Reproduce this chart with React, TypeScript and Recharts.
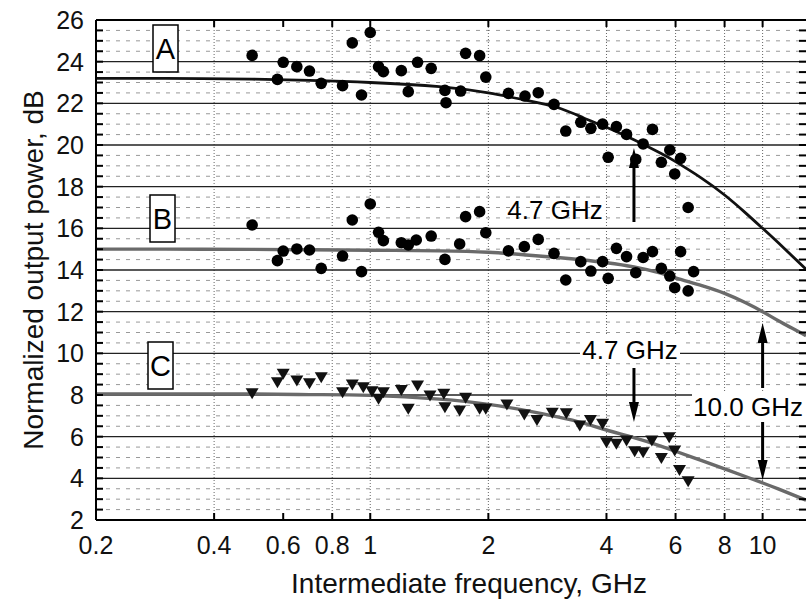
import React from "react";
import {
  ComposedChart,
  Line,
  Scatter,
  XAxis,
  YAxis,
  ReferenceLine,
} from "recharts";

// fitted curves
const fitFreq = [0.2, 0.3, 0.5, 0.7, 1, 1.5, 2, 2.5, 3, 3.5, 4, 4.7, 5.5, 6, 7, 8, 9, 10, 11, 12.9];
const fitA = [23.2, 23.2, 23.16, 23.1, 23.0, 22.8, 22.5, 22.15, 21.8, 21.3, 20.85, 20.25, 19.6, 19.2, 18.4, 17.6, 16.78, 16.0, 15.28, 14.04];
const fitB = [15.0, 15.0, 14.99, 14.97, 14.95, 14.92, 14.85, 14.72, 14.6, 14.48, 14.35, 14.15, 13.85, 13.62, 13.25, 12.88, 12.45, 12.0, 11.55, 10.85];
const fitC = [8.05, 8.05, 8.05, 8.02, 7.98, 7.8, 7.55, 7.25, 6.95, 6.65, 6.32, 5.95, 5.55, 5.3, 4.85, 4.45, 4.1, 3.78, 3.48, 2.95];

// measured points, series A (circles)
const aFreq = [0.5, 0.58, 0.6, 0.65, 0.7, 0.75, 0.85, 0.9, 0.95, 1.0, 1.05, 1.08, 1.2, 1.25, 1.32, 1.43, 1.55, 1.56, 1.7, 1.75, 1.9, 1.97, 2.25, 2.48, 2.68, 2.94, 3.15, 3.44, 3.65, 3.91, 4.04, 4.24, 4.5, 4.75, 4.96, 5.24, 5.52, 5.8, 5.97, 6.18];
const aPow = [24.3, 23.15, 23.97, 23.76, 23.55, 22.96, 22.85, 24.9, 22.4, 25.4, 23.76, 23.52, 23.57, 22.56, 23.97, 23.68, 22.62, 22.03, 22.59, 24.4, 24.29, 23.26, 22.48, 22.35, 22.51, 21.95, 20.67, 21.09, 20.8, 21.0, 19.41, 20.88, 20.51, 19.31, 20.05, 20.75, 19.17, 19.76, 18.61, 19.36];

// series B (circles)
const bFreq = [0.5, 0.58, 0.6, 0.65, 0.7, 0.75, 0.85, 0.9, 0.95, 1.0, 1.05, 1.08, 1.2, 1.25, 1.31, 1.43, 1.55, 1.69, 1.75, 1.9, 1.97, 2.25, 2.47, 2.68, 2.94, 3.15, 3.44, 3.65, 3.91, 4.04, 4.24, 4.5, 4.75, 4.96, 5.24, 5.52, 5.8, 5.97, 6.18, 6.46, 6.67, 6.46];
const bPow = [16.16, 14.45, 14.91, 15.01, 14.96, 14.08, 14.67, 16.4, 13.92, 17.17, 15.81, 15.41, 15.31, 15.2, 15.44, 15.63, 14.51, 15.25, 16.56, 16.8, 15.79, 14.92, 15.12, 15.47, 14.8, 13.52, 14.4, 13.95, 14.4, 13.6, 15.04, 14.64, 13.87, 14.6, 14.88, 14.08, 13.71, 13.15, 14.88, 13.0, 13.92, 17.0];

// series C (down triangles)
const cFreq = [0.5, 0.58, 0.6, 0.65, 0.7, 0.75, 0.85, 0.9, 0.96, 1.01, 1.05, 1.08, 1.2, 1.25, 1.32, 1.42, 1.54, 1.55, 1.69, 1.75, 1.9, 1.97, 2.23, 2.47, 2.66, 2.91, 3.16, 3.42, 3.64, 3.91, 4.0, 4.24, 4.5, 4.72, 4.96, 5.22, 5.52, 5.78, 5.97, 6.14, 6.46];
const cPow = [8.11, 8.64, 9.04, 8.72, 8.59, 8.88, 8.16, 8.53, 8.4, 8.2, 7.84, 8.16, 8.27, 7.36, 8.48, 8.0, 8.08, 7.44, 7.28, 7.89, 7.36, 7.36, 7.57, 7.09, 6.83, 7.17, 7.15, 6.56, 6.83, 6.64, 5.76, 5.68, 5.84, 5.33, 5.28, 5.84, 5.0, 6.0, 5.36, 4.43, 3.88];

const xTicks = [0.2, 0.4, 0.6, 0.8, 1, 2, 4, 6, 8, 10];
const xGrid = [0.4, 0.8, 1, 2, 4, 6, 8, 10];
const yTicks = [2, 4, 6, 8, 10, 12, 14, 16, 18, 20, 22, 24, 26];

const pairs = (fs: number[], vs: number[]) => fs.map((f, i) => ({ f, db: vs[i] }));

const curveA = pairs(fitFreq, fitA);
const curveB = pairs(fitFreq, fitB);
const curveC = pairs(fitFreq, fitC);
const pointsA = pairs(aFreq, aPow);
const pointsB = pairs(bFreq, bPow);
const pointsC = pairs(cFreq, cPow);

const W = 806;
const H = 601;
const LEFT = 96;
const TOP = 20;
const BOTTOM = 520;
const X_MIN = 0.2;
const X_MAX = 12.9;
const FONT = "'Liberation Sans', Arial, Helvetica, sans-serif";

const px = (f: number) =>
  LEFT + ((W - LEFT) * Math.log10(f / X_MIN)) / Math.log10(X_MAX / X_MIN);
const py = (d: number) => TOP + ((BOTTOM - TOP) * (26 - d)) / 24;

const minorY: number[] = [];
for (let v = 2.5; v < 26; v += 0.5) if (v % 2 !== 0) minorY.push(v);
const allYTicks: number[] = [];
for (let v = 2; v <= 26; v += 0.5) allYTicks.push(v);

const Dot = (props: any) => <circle cx={props.cx} cy={props.cy} r={5.8} fill="#000" />;
const Tri = (props: any) => {
  const { cx, cy } = props;
  return (
    <polygon
      points={`${cx - 6.5},${cy - 4.5} ${cx + 6.5},${cy - 4.5} ${cx},${cy + 6.5}`}
      fill="#111"
    />
  );
};

const Arrow = ({ x, from, to }: { x: number; from: number; to: number }) => {
  const dir = to < from ? -1 : 1;
  const head = 20;
  return (
    <g>
      <line x1={x} y1={from} x2={x} y2={to - dir * head} stroke="#000" strokeWidth={3} />
      <polygon points={`${x - 5},${to - dir * head} ${x + 5},${to - dir * head} ${x},${to}`} fill="#000" />
    </g>
  );
};

const Box = ({ x, y, label }: { x: number; y: number; label: string }) => (
  <g>
    <rect x={x} y={y} width={25} height={47} fill="#fff" stroke="#000" strokeWidth={1.5} />
    <text x={x + 12.5} y={y + 34} textAnchor="middle" fontSize={29} fill="#000">
      {label}
    </text>
  </g>
);

export default function App() {
  return (
    <div style={{ position: "absolute", left: 0, top: 0, width: W, height: H, overflow: "hidden", background: "#fff", fontFamily: FONT }}>
      <ComposedChart width={W} height={H} margin={{ top: TOP, right: 0, bottom: 0, left: 0 }}>
        <XAxis
          dataKey="f"
          type="number"
          scale="log"
          domain={[X_MIN, X_MAX]}
          allowDataOverflow
          ticks={xTicks}
          interval={0}
          height={H - BOTTOM}
          tickLine={false}
          tickMargin={10}
          axisLine={{ stroke: "#000", strokeWidth: 2 }}
          tick={{ fontSize: 25, fill: "#111", fontFamily: FONT }}
          tickFormatter={(v: number) => String(v)}
        />
        <YAxis
          dataKey="db"
          type="number"
          domain={[2, 26]}
          ticks={yTicks}
          interval={0}
          width={LEFT}
          tickLine={false}
          tickMargin={6}
          axisLine={{ stroke: "#000", strokeWidth: 2 }}
          tick={{ fontSize: 25, fill: "#111", fontFamily: FONT }}
        />
        {minorY.map((v) => (
          <ReferenceLine key={`my${v}`} y={v} stroke="#999" strokeDasharray="4 6" strokeWidth={1} />
        ))}
        {xGrid.map((v) => (
          <ReferenceLine key={`gx${v}`} x={v} stroke="#666" strokeDasharray="1 2" strokeWidth={1} />
        ))}
        {yTicks.slice(1, -1).map((v) => (
          <ReferenceLine key={`gy${v}`} y={v} stroke="#222" strokeWidth={1.3} />
        ))}
        <ReferenceLine y={26} stroke="#000" strokeWidth={2} />
        <Line data={curveA} dataKey="db" type="natural" stroke="#111" strokeWidth={2.8} dot={false} isAnimationActive={false} />
        <Line data={curveB} dataKey="db" type="natural" stroke="#6a6a6a" strokeWidth={3.4} dot={false} isAnimationActive={false} />
        <Line data={curveC} dataKey="db" type="natural" stroke="#6a6a6a" strokeWidth={3.4} dot={false} isAnimationActive={false} />
        <Scatter data={pointsA} dataKey="db" shape={Dot} isAnimationActive={false} />
        <Scatter data={pointsB} dataKey="db" shape={Dot} isAnimationActive={false} />
        <Scatter data={pointsC} dataKey="db" shape={Tri} isAnimationActive={false} />
      </ComposedChart>

      <svg width={W} height={H} style={{ position: "absolute", left: 0, top: 0, pointerEvents: "none" }} fontFamily={FONT}>
        {allYTicks.map((v) => (
          <g key={`t${v}`}>
            <line x1={LEFT} x2={LEFT + 7} y1={py(v)} y2={py(v)} stroke="#000" strokeWidth={2} />
            <line x1={W - 7} x2={W} y1={py(v)} y2={py(v)} stroke="#000" strokeWidth={2} />
          </g>
        ))}
        {xTicks.slice(1).map((v) => (
          <g key={`tx${v}`}>
            <line x1={px(v)} x2={px(v)} y1={BOTTOM} y2={BOTTOM - 7} stroke="#000" strokeWidth={2} />
            <line x1={px(v)} x2={px(v)} y1={TOP} y2={TOP + 7} stroke="#000" strokeWidth={2} />
          </g>
        ))}

        <Box x={153} y={25} label="A" />
        <Box x={150} y={195} label="B" />
        <Box x={148} y={342} label="C" />

        <text x={555} y={219} textAnchor="middle" fontSize={26} fill="#000">4.7 GHz</text>
        <Arrow x={px(4.7)} from={222} to={148} />

        <rect x={580} y={336} width={100} height={27} fill="#fff" />
        <text x={630} y={359} textAnchor="middle" fontSize={26} fill="#000">4.7 GHz</text>
        <Arrow x={px(4.7)} from={368} to={422} />

        <rect x={692} y={393} width={114} height={28} fill="#fff" />
        <text x={748} y={416} textAnchor="middle" fontSize={26} fill="#000">10.0 GHz</text>
        <Arrow x={px(10)} from={388} to={323} />
        <Arrow x={px(10)} from={422} to={480} />

        <text x={0} y={0} transform="translate(43,270) rotate(-90)" textAnchor="middle" fontSize={28} fill="#111">
          Normalized output power, dB
        </text>
        <text x={469} y={593} textAnchor="middle" fontSize={28} fill="#111">
          Intermediate frequency, GHz
        </text>
      </svg>
    </div>
  );
}
